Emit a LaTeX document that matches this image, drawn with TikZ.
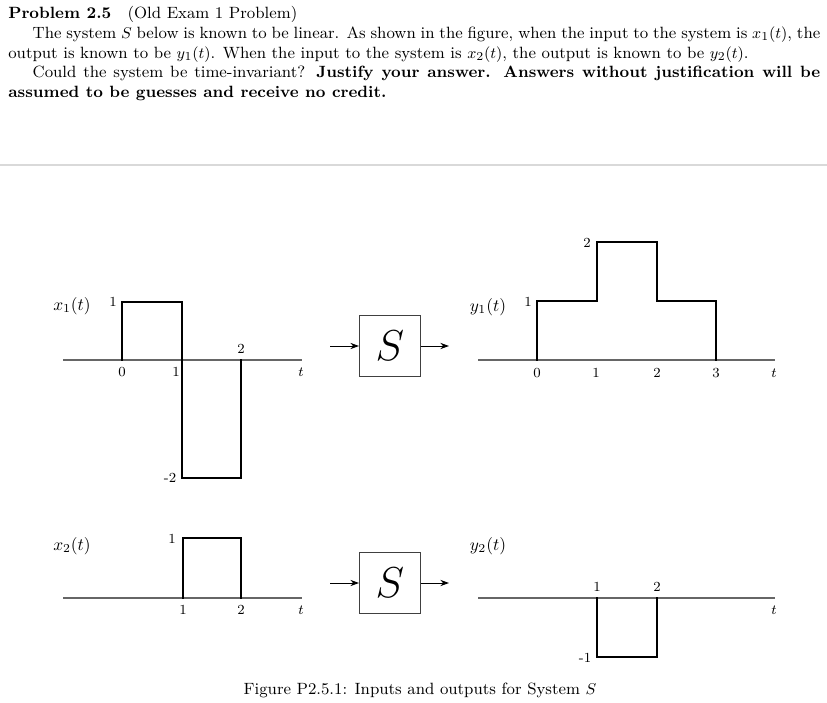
\documentclass[tikz,border=0pt]{standalone}
\usetikzlibrary{arrows.meta}
\begin{document}
\begin{tikzpicture}[x=0.576pt,y=-0.576pt,
  sig/.style={line width=1.2pt, line join=miter, line cap=rect},
  ax/.style={draw=black!60, line width=0.85pt},
  lab/.style={font=\footnotesize, inner sep=0pt},
  fn/.style={font=\normalsize, inner sep=0pt},
  blk/.style={draw=black!75, line width=0.6pt, minimum width=35.1pt, minimum height=35.5pt, font=\fontsize{28}{30}\selectfont, inner sep=0pt},
  arr/.style={-{Stealth[length=5pt,width=3.6pt]}, line width=0.55pt}]
\useasboundingbox (0,0) rectangle (827,703);
% header text
\node[anchor=north west, text width=467.7pt, align=justify, inner sep=0pt, font=\fontsize{9.4pt}{11.4pt}\selectfont] (hdr) at (8,6) {%
\textbf{Problem 2.5}\quad(Old Exam 1 Problem)\par
\hspace*{14pt}The system $S$ below is known to be linear. As shown in the figure, when the input to the system is $x_1(t)$, the\linebreak
output is known to be $y_1(t)$. When the input to the system is $x_2(t)$, the output is known to be $y_2(t)$.\par
\hspace*{14pt}Could the system be time-invariant? \textbf{Justify your answer. Answers without justification will be\linebreak
assumed to be guesses and receive no credit.}};
% separator
\draw[draw=black!15, line width=0.7pt] (0,165) -- (827,165);

% ---------- x1(t)
\coordinate (a1s) at (63,360); \coordinate (a1e) at (302,360);
\draw[ax] (a1s) -- (a1e);
\draw[sig] (122,360) -- (122,302) -- (182,302) -- (182,478) -- (241,478) -- (241,360);
\node[fn] (x1) at (72,306) {$x_1(t)$};
\node[lab] (x1v1) at (113,302) {1};
\node[lab] (x1t0) at (122,372) {0};
\node[lab] (x1t1) at (176,372) {1};
\node[lab] (x1t2) at (241,349) {2};
\node[lab] (x1vm2) at (170,478) {-2};
\node[lab] (x1t) at (301,372) {$t$};

% ---------- block 1
\node[blk] (S1) at (390,346) {$S$};
\coordinate (in1) at (330,346); \coordinate (out1) at (449,346);
\draw[arr] (in1) -- (S1.west);
\draw[arr] (S1.east) -- (out1);

% ---------- y1(t)
\coordinate (b1s) at (478,360); \coordinate (b1e) at (775,360);
\draw[ax] (b1s) -- (b1e);
\draw[sig] (537,360) -- (537,301) -- (597,301) -- (597,242) -- (657,242) -- (657,301) -- (716,301) -- (716,360);
\node[fn] (y1) at (488,307) {$y_1(t)$};
\node[lab] (y1v1) at (528,302) {1};
\node[lab] (y1v2) at (587,243) {2};
\node[lab] (y1t0) at (537,373) {0};
\node[lab] (y1t1) at (596,373) {1};
\node[lab] (y1t2) at (657,373) {2};
\node[lab] (y1t3) at (716,373) {3};
\node[lab] (y1t) at (774,373) {$t$};

% ---------- x2(t)
\coordinate (a2s) at (63,598); \coordinate (a2e) at (302,598);
\draw[ax] (a2s) -- (a2e);
\draw[sig] (183,598) -- (183,538) -- (241,538) -- (241,598);
\node[fn] (x2) at (72,546) {$x_2(t)$};
\node[lab] (x2v1) at (172,539) {1};
\node[lab] (x2t1) at (183,610) {1};
\node[lab] (x2t2) at (241,610) {2};
\node[lab] (x2t) at (301,610) {$t$};

% ---------- block 2
\node[blk] (S2) at (390,583) {$S$};
\coordinate (in2) at (330,583); \coordinate (out2) at (449,583);
\draw[arr] (in2) -- (S2.west);
\draw[arr] (S2.east) -- (out2);

% ---------- y2(t)
\coordinate (b2s) at (478,598); \coordinate (b2e) at (775,598);
\draw[ax] (b2s) -- (b2e);
\draw[sig] (597,598) -- (597,657) -- (657,657) -- (657,598);
\node[fn] (y2) at (488,546) {$y_2(t)$};
\node[lab] (y2t1) at (597,587) {1};
\node[lab] (y2t2) at (657,587) {2};
\node[lab] (y2vm1) at (585,658) {-1};
\node[lab] (y2t) at (774,610) {$t$};

% caption
\node[inner sep=0pt, font=\fontsize{9.4pt}{11.4pt}\selectfont] (cap) at (420,690) {Figure P2.5.1: Inputs and outputs for System $S$};
\end{tikzpicture}
\end{document}
